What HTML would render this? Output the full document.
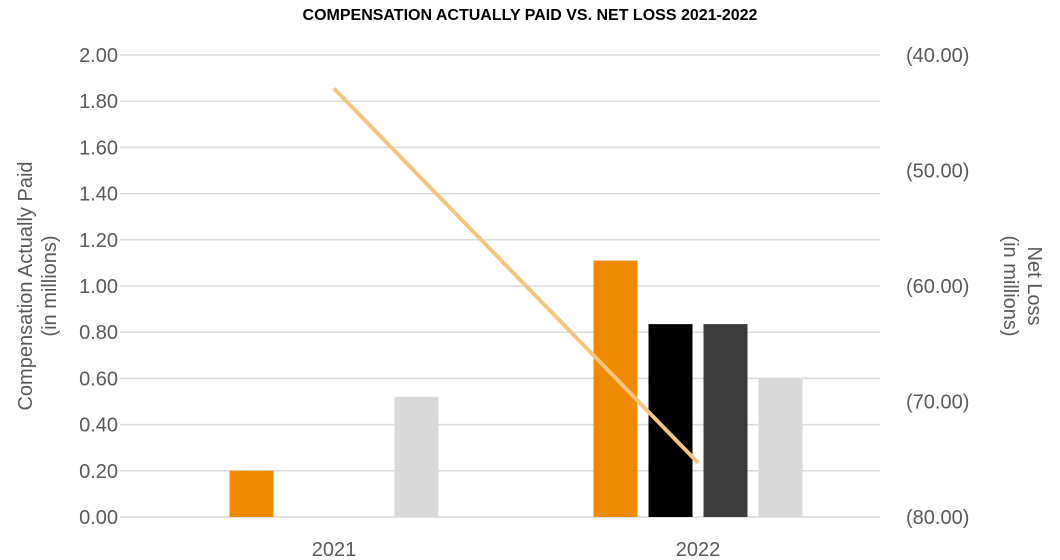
<!DOCTYPE html>
<html><head><meta charset="utf-8"><style>
body{margin:0;background:#fff;}
svg{display:block;font-family:"Liberation Sans",sans-serif;}
</style></head><body>
<svg id="chart" width="1060" height="560">
<text x="530" y="20" text-anchor="middle" font-size="16" font-weight="bold" fill="#000">COMPENSATION ACTUALLY PAID VS.  NET LOSS 2021-2022</text>
<text transform="translate(32,286) rotate(-90)" text-anchor="middle" font-size="20" fill="#595959"><tspan x="0" dy="0">Compensation Actually Paid</tspan><tspan x="0" dy="24">(in millions)</tspan></text>
<text transform="translate(1028,286) rotate(90)" text-anchor="middle" font-size="20" fill="#595959"><tspan x="0" dy="0">Net Loss</tspan><tspan x="0" dy="24">(in millions)</tspan></text>
<g id="grid"></g><g id="bars"></g><g id="line"></g><g id="labels"></g>
</svg>
<script>
const categories=["2021","2022"];
const seriesA=[0.20,1.11];
const seriesB=[0,0.835];
const seriesC=[0,0.835];
const seriesD=[0.52,0.60];
const netLoss=[-42.9,-75.3];
const leftTicks=[0,0.2,0.4,0.6,0.8,1.0,1.2,1.4,1.6,1.8,2.0];
const rightTicks=[-40,-50,-60,-70,-80];
const NS="http://www.w3.org/2000/svg";
const plotTop=55,plotBot=517,plotL=152,plotR=880;
const yL=v=>plotBot-(v/2)*(plotBot-plotTop);
const yR=v=>plotTop+((-v)-40)/40*(plotBot-plotTop);
const band=(plotR-plotL)/categories.length;
const cx=i=>plotL+band*(i+0.5);
function mk(t,a,p){const e=document.createElementNS(NS,t);for(const k in a)e.setAttribute(k,a[k]);p.appendChild(e);return e;}
const grid=document.getElementById('grid'),labels=document.getElementById('labels');
leftTicks.forEach(v=>{
 const l=mk('line',{x1:120,x2:plotR,y1:yL(v),y2:yL(v),stroke:'#d9d9d9','stroke-width':1.5},grid);
 
 
 const t=mk('text',{x:118,y:yL(v)+7,'text-anchor':'end','font-size':20,fill:'#595959'},labels);
 t.textContent=v.toFixed(2);
 
 
});
rightTicks.forEach(v=>{
 const t=mk('text',{x:906,y:yR(v)+7,'font-size':20,fill:'#595959'},labels);
 t.textContent='('+Math.abs(v).toFixed(2)+')';
 
 
});
categories.forEach((c,i)=>{
 const t=mk('text',{x:cx(i),y:556,'text-anchor':'middle','font-size':20,fill:'#595959'},labels);
 t.textContent=c;
 
 
});
const bars=document.getElementById('bars');
const series=[[seriesA,'#f08a00','bar-series-a'],[seriesB,'#000000','bar-series-b'],[seriesC,'#3b3b3b','bar-series-c'],[seriesD,'#d9d9d9','bar-series-d']];
const bw=44,gap=11,gw=4*bw+3*gap;
series.forEach(([vals,col,name],s)=>{
 vals.forEach((v,i)=>{
  if(v<=0)return;
  const x=cx(i)-gw/2+s*(bw+gap);
  const r=mk('rect',{x:x,y:yL(v),width:bw,height:plotBot-yL(v),fill:col},bars);
  
  
 });
});
const pts=netLoss.map((v,i)=>cx(i)+','+yR(v)).join(' ');
const lineEl=mk('polyline',{points:pts,fill:'none',stroke:'#f5c47e','stroke-width':4},document.getElementById('line'));


</script>
</body></html>
